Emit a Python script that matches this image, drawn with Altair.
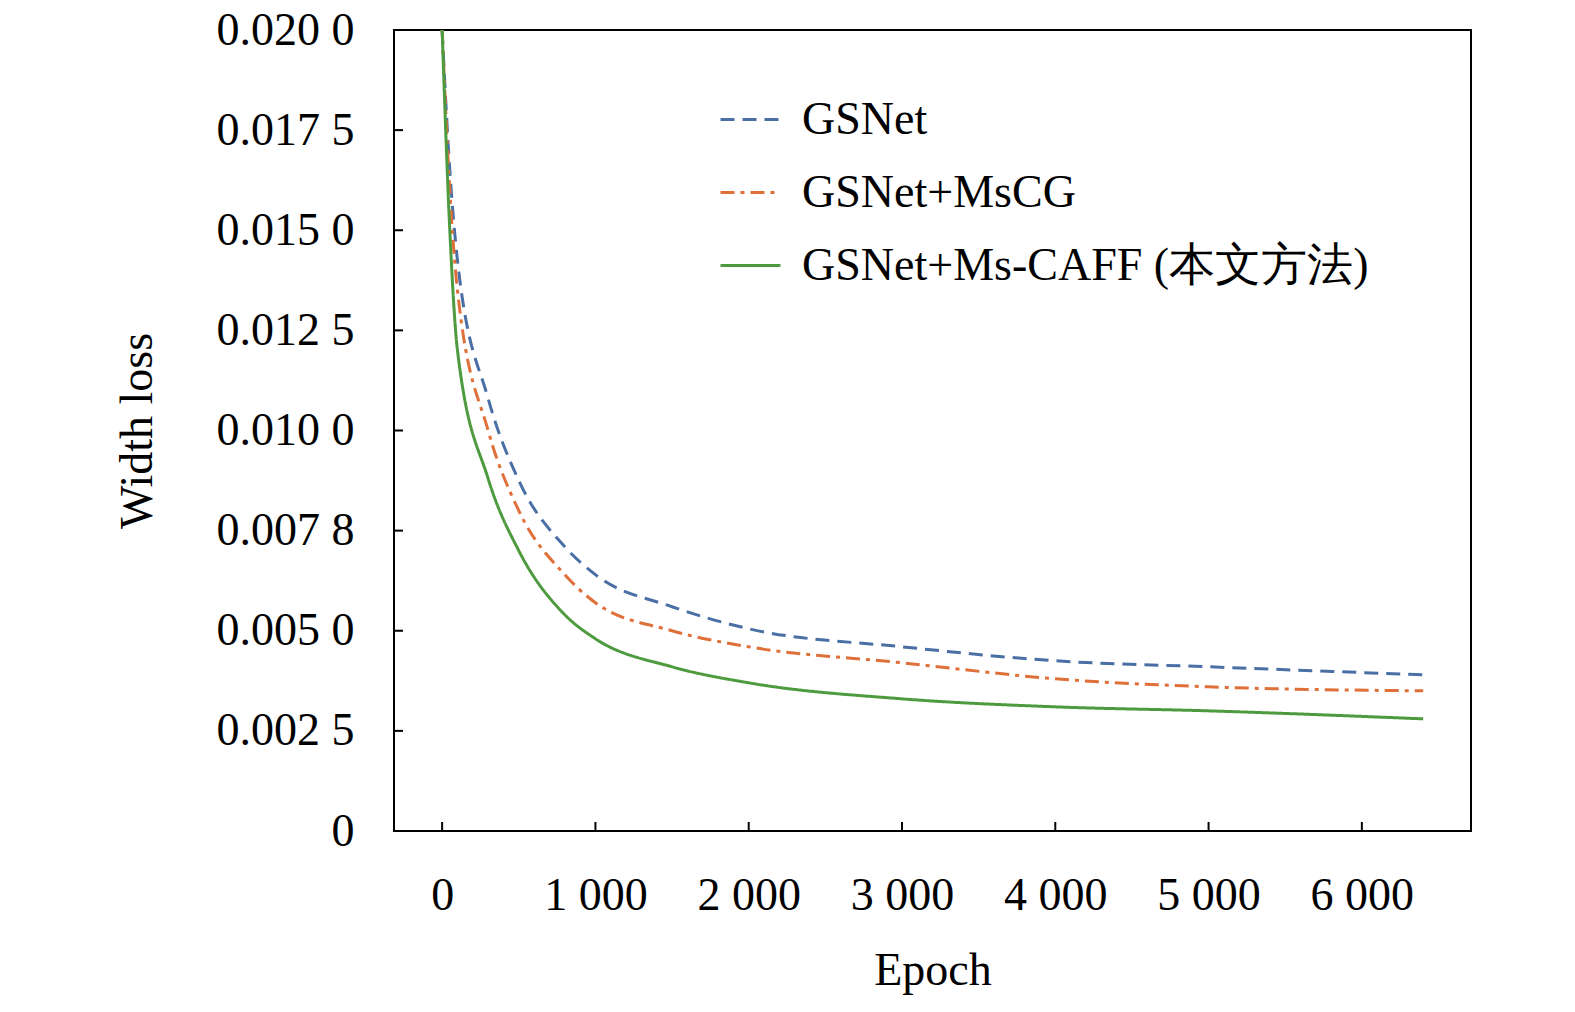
import altair as alt
import pandas as pd

epochs = [0, 50, 100, 300, 500, 800, 1000, 1500, 2000, 3000, 4000, 5000, 6400]
gsnet = [0.0200, 0.0165, 0.01425, 0.0108, 0.00875, 0.0071, 0.0064, 0.0056, 0.00505, 0.0046, 0.00425, 0.0041, 0.0039]
mscg = [0.0200, 0.0160, 0.0135, 0.0100, 0.0080, 0.0064, 0.0057, 0.0050, 0.0046, 0.0042, 0.0038, 0.0036, 0.0035]
caff = [0.0200, 0.0150, 0.0120, 0.0088, 0.0070, 0.0054, 0.0048, 0.0041, 0.0037, 0.0033, 0.0031, 0.0030, 0.0028]
names = ["GSNet", "GSNet+MsCG", "GSNet+Ms-CAFF (本文方法)"]
colors = ["#4a6fa5", "#e0703a", "#4e9a3f"]
dashes = [[14, 8], [14, 6, 4, 6], [1, 0]]

y_ticks = [0, 0.0025, 0.005, 0.0075, 0.01, 0.0125, 0.015, 0.0175, 0.02]
y_labels = ["0", "0.002 5", "0.005 0", "0.007 8", "0.010 0", "0.012 5", "0.015 0", "0.017 5", "0.020 0"]
x_ticks = [0, 1000, 2000, 3000, 4000, 5000, 6000]
x_labels = ["0", "1 000", "2 000", "3 000", "4 000", "5 000", "6 000"]

rows = []
for n, s in zip(names, [gsnet, mscg, caff]):
    for e, v in zip(epochs, s):
        rows.append({"epoch": e, "loss": v, "model": n})
df = pd.DataFrame(rows)

ymap = "{" + ",".join(f"'{t}':'{l}'" for t, l in zip(y_ticks, y_labels)) + "}"
xmap = "{" + ",".join(f"'{t}':'{l}'" for t, l in zip(x_ticks, x_labels)) + "}"

xs = alt.Scale(domain=[-314, 6712], nice=False)
ys = alt.Scale(domain=[0, 0.02], nice=False)
font = "Liberation Serif"

lines = alt.Chart(df).mark_line(strokeWidth=3, interpolate="monotone").encode(
    x=alt.X("epoch:Q", scale=xs, title="Epoch",
            axis=alt.Axis(values=x_ticks, labelExpr=f"{xmap}[datum.value]", ticks=False,
                          domain=False, grid=False, labelPadding=42, titlePadding=30)),
    y=alt.Y("loss:Q", scale=ys, title="Width loss",
            axis=alt.Axis(values=y_ticks, labelExpr=f"{ymap}[''+datum.value]", ticks=False,
                          domain=False, grid=False, labelPadding=40, titlePadding=55)),
    color=alt.Color("model:N", scale=alt.Scale(domain=names, range=colors),
                    legend=alt.Legend(title=None, orient="none", legendX=325, legendY=58,
                                      symbolType="stroke", symbolSize=3600, symbolStrokeWidth=3,
                                      labelFontSize=46, labelFont=font, rowPadding=18,
                                      labelOffset=20, labelLimit=900)),
    strokeDash=alt.StrokeDash("model:N", scale=alt.Scale(domain=names, range=dashes), legend=None),
)

yt = alt.Chart(pd.DataFrame({"v": y_ticks})).mark_rule(color="black", strokeWidth=2).encode(
    y=alt.Y("v:Q", scale=ys), x=alt.value(0), x2=alt.value(9))
xt = alt.Chart(pd.DataFrame({"v": x_ticks})).mark_rule(color="black", strokeWidth=2).encode(
    x=alt.X("v:Q", scale=xs), y=alt.value(801), y2=alt.value(792))

chart = alt.layer(lines, yt, xt).properties(
    width=1077, height=801, autosize="none",
    padding={"left": 386, "top": 22, "right": 90, "bottom": 180},
).configure_view(stroke="black", strokeWidth=2).configure_axis(
    labelFont=font, titleFont=font, labelFontSize=46, titleFontSize=46,
    labelColor="black", titleColor="black", titleFontWeight="normal",
)

chart.save("out.html", embed_options={"renderer": "svg", "actions": False})
